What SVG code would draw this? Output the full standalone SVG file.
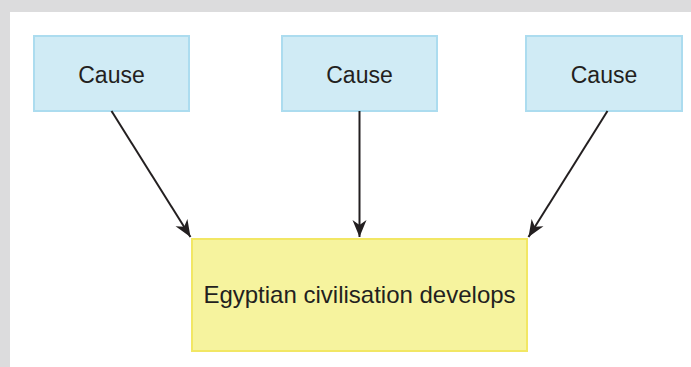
<svg xmlns="http://www.w3.org/2000/svg" width="691" height="367" viewBox="0 0 691 367">
<defs>
<style>
.cause rect{fill:#d0ebf5;stroke:#acdcef;stroke-width:2}
.effect rect{fill:#f6f39e;stroke:#f2e764;stroke-width:2}
text{font-family:"Liberation Sans",Arial,sans-serif;font-size:23px;fill:#231f20;text-anchor:middle}
.effect text{font-size:24px}
.conn line{stroke:#231f20;stroke-width:2;fill:none}
</style>
<marker id="ah" viewBox="-18 -8 19 16" refX="0" refY="0" markerWidth="19" markerHeight="16" markerUnits="userSpaceOnUse" orient="auto">
<path d="M0,0 L-17,-7 L-12,0 L-17,7 Z" fill="#231f20"/>
</marker>
</defs>
<rect x="0" y="0" width="691" height="367" fill="#dcdcdd"/>
<rect x="10" y="12" width="681" height="355" fill="#ffffff"/>
<g id="cause1" class="cause">
<rect x="34" y="36" width="155" height="75"/>
<text x="111.5" y="83">Cause</text>
</g>
<g id="cause2" class="cause">
<rect x="282" y="36" width="155" height="75"/>
<text x="359.5" y="83">Cause</text>
</g>
<g id="cause3" class="cause">
<rect x="526" y="36" width="156" height="75"/>
<text x="604" y="83">Cause</text>
</g>
<g id="effect" class="effect">
<rect x="192" y="239" width="335" height="112"/>
<text x="359.5" y="303">Egyptian civilisation develops</text>
</g>
<g id="connectors" class="conn">
<line x1="111.5" y1="111" x2="190.5" y2="237" marker-end="url(#ah)"/>
<line x1="359.5" y1="111" x2="359.5" y2="237" marker-end="url(#ah)"/>
<line x1="607.5" y1="111" x2="528.5" y2="237" marker-end="url(#ah)"/>
</g>
</svg>
